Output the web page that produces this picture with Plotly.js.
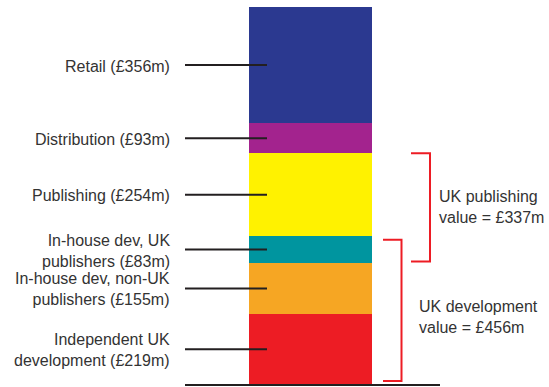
<!DOCTYPE html>
<html>
<head>
<meta charset="utf-8">
<script src="https://cdn.plot.ly/plotly-3.0.1.min.js"></script>
<style>html,body{margin:0;padding:0;background:#fff;}#chart{width:549px;height:387px;}</style>
</head>
<body>
<div id="chart"></div>
<script>
// Data (bottom to top of the stack)
const categories = ["Independent UK<br>development", "In-house dev, non-UK<br>publishers", "In-house dev, UK<br>publishers", "Publishing", "Distribution", "Retail"];
const values = [219, 155, 83, 254, 93, 356];
const colors = ["#ed1c24", "#f6a623", "#00959f", "#fff200", "#a3238e", "#2b3990"];
// Bracket groups (indices into the stack) and their stated totals
const groupNames = ["UK publishing", "UK development"];
const groupTotals = [337, 456];
const publishingGroup = [2, 3];
const developmentGroup = [0, 1, 2];

const W = 549, H = 387;
const px = v => v / W;
const font = {family: "Arial, 'Liberation Sans', sans-serif", size: 16, color: "#333333"};

const cum = [0];
values.forEach((v, i) => cum.push(cum[i] + v));
const total = cum[cum.length - 1];

const traces = values.map((v, i) => ({
  type: "bar", x: [0], y: [v], width: [1],
  marker: {color: colors[i], line: {width: 0}},
  hoverinfo: "skip", showlegend: false
}));

const shapes = [];
const annotations = [];
// baseline
shapes.push({type: "line", xref: "paper", yref: "y", x0: px(185), x1: px(440), y0: 0, y1: 0,
  line: {color: "#231f20", width: 2}});
// leader lines and labels
values.forEach((v, i) => {
  const mid = cum[i] + v / 2;
  shapes.push({type: "line", xref: "paper", yref: "y", x0: px(185), x1: px(267), y0: mid, y1: mid,
    line: {color: "#231f20", width: 2}});
  annotations.push({xref: "paper", yref: "y", x: px(172), y: mid, yshift: -1, xanchor: "right", yanchor: "middle",
    align: "right", showarrow: false, text: categories[i] + " (£" + v + "m)", font: font});
});
// brackets
const pubTop = cum[publishingGroup[publishingGroup.length - 1] + 1];
const pubBot = cum[publishingGroup[0]] + 5;
const devTop = cum[developmentGroup[developmentGroup.length - 1] + 1] - 11;
const devBot = cum[developmentGroup[0]] + 12;
function bracket(xa, xb, yt, yb) {
  return {type: "path", xref: "paper", yref: "y",
    path: `M ${xa},${yt} L ${xb},${yt} L ${xb},${yb} L ${xa},${yb}`,
    line: {color: "#ed1c24", width: 2}};
}
shapes.push(bracket(px(411), px(430), pubTop, pubBot));
shapes.push(bracket(px(383), px(401.5), devTop, devBot));
annotations.push({xref: "paper", yref: "y", x: px(437), y: (pubTop + pubBot) / 2, xanchor: "left", yanchor: "middle",
  align: "left", showarrow: false, text: groupNames[0] + "<br>value = £" + groupTotals[0] + "m", font: font});
annotations.push({xref: "paper", yref: "y", x: px(417), y: (devTop + devBot) / 2, yshift: -7, xanchor: "left", yanchor: "middle",
  align: "left", showarrow: false, text: groupNames[1] + "<br>value = £" + groupTotals[1] + "m", font: font});

// axis ranges: bar occupies 249..372 px horizontally, 0 at y=385 px and top at 7 px
const unit = 123;
const xr = [-0.5 - 249 / unit, 0.5 + (W - 372) / unit];
const k = 378 / total;
const yr = [-(H - 385) / k, total + 7 / k];

const layout = {
  width: W, height: H, margin: {l: 0, r: 0, t: 0, b: 0},
  paper_bgcolor: "#ffffff", plot_bgcolor: "#ffffff",
  barmode: "stack", bargap: 0,
  xaxis: {range: xr, visible: false, fixedrange: true},
  yaxis: {range: yr, visible: false, fixedrange: true},
  shapes: shapes, annotations: annotations, showlegend: false
};
Plotly.newPlot("chart", traces, layout, {displayModeBar: false, staticPlot: true});
</script>
</body>
</html>
